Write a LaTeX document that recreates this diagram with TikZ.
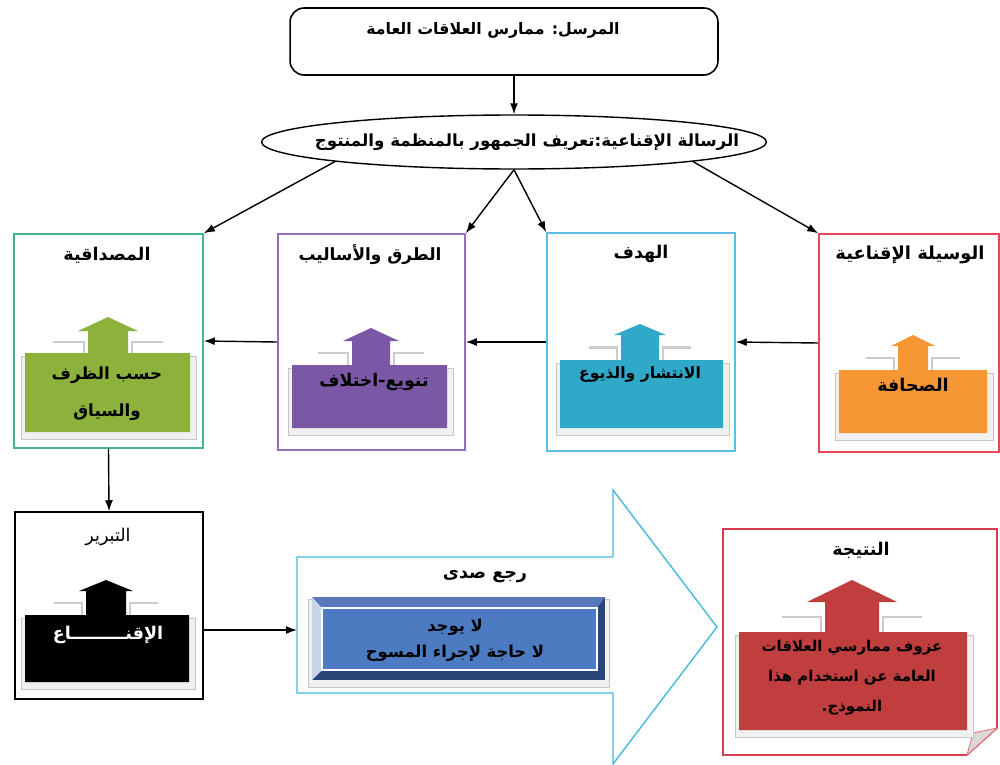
\documentclass[tikz,border=0pt]{standalone}
\usepackage{fontspec}
\newfontfamily\arabicfont[Script=Arabic]{DejaVu Sans}
\TeXXeTstate=1
\usepackage{tikz}
\usetikzlibrary{shapes.geometric, arrows.meta}

\definecolor{credline}{RGB}{70,180,140}
\definecolor{credfill}{RGB}{140,178,60}
\definecolor{methline}{RGB}{150,110,190}
\definecolor{methfill}{RGB}{122,88,165}
\definecolor{goalline}{RGB}{90,190,230}
\definecolor{goalfill}{RGB}{48,168,200}
\definecolor{medline}{RGB}{230,70,90}
\definecolor{medfill}{RGB}{246,150,52}
\definecolor{resline}{RGB}{215,60,80}
\definecolor{resfill}{RGB}{192,62,62}
\definecolor{echoline}{RGB}{70,185,220}
\definecolor{bevtop}{RGB}{88,122,186}
\definecolor{bevside}{RGB}{200,212,234}
\definecolor{bevdark}{RGB}{42,70,121}
\definecolor{bevface}{RGB}{76,123,194}

\newcommand{\artext}[1]{\beginR #1\endR}
% #1 colour, #2-#5 box corners, #6 centre x, #7 stem half width, #8 head half width, #9 tip y
\newcommand{\upcallout}[9]{%
  \pgfmathsetmacro\cbase{#9+#8-#7+4}
  \pgfmathsetmacro\cledge{(#3+\cbase)/2}
  \path[shadowbox] (#2-4,#3+3) rectangle (#4+6,#5+7);
  \draw[ledge] (#6-#8-25,\cledge) -- (#6-#7-4,\cledge) -- (#6-#7-4,#3);
  \draw[ledge] (#6+#8+25,\cledge) -- (#6+#7+4,\cledge) -- (#6+#7+4,#3);
  \fill[#1] (#2,#3) -- (#6-#7,#3) -- (#6-#7,\cbase) -- (#6-#8,\cbase) -- (#6,#9)
    -- (#6+#8,\cbase) -- (#6+#7,\cbase) -- (#6+#7,#3) -- (#4,#3) -- (#4,#5) -- (#2,#5) -- cycle;
}

\tikzset{
  fsize/.style={font=\arabicfont\bfseries\fontsize{#1}{13}\selectfont},
  every node/.style={fsize=10},
  conn/.style={-{Latex[length=2.2mm,width=1.6mm]}, line width=0.8pt},
  panel/.style={draw, fill=white, line width=0.9pt, inner sep=0pt},
  shadowbox/.style={fill=gray!12, draw=gray!45, line width=0.4pt},
  ledge/.style={draw=gray!40, line width=1.2pt},
}

\begin{document}
\begin{tikzpicture}[x=0.02cm, y=-0.02cm]
\useasboundingbox (0,0) rectangle (1000,764);

% sender and message
\node (sender) [panel, rounded corners=8pt, minimum width=8.56cm, minimum height=1.34cm] at (504,41.5) {};
\node (sendertxt) [fsize=9] at (493,30) {\artext{المرسل: ممارس العلاقات العامة}};
\node (msg) [draw, ellipse, line width=0.8pt, inner sep=0pt, minimum width=10.1cm, minimum height=1.08cm] at (514,142) {};
\node (msgtxt) [fsize=9.5] at (527,142) {\artext{الرسالة الإقناعية:تعريف الجمهور بالمنظمة والمنتوج}};
\draw[conn] (sender.south -| msg.north) -- (msg.north);

% the four panels
\node (cred) [panel, draw=credline, minimum width=3.78cm, minimum height=4.28cm] at (108.5,341) {};
\node (meth) [panel, draw=methline, minimum width=3.74cm, minimum height=4.32cm] at (371.5,342) {};
\node (goal) [panel, draw=goalline, minimum width=3.76cm, minimum height=4.36cm] at (641,342) {};
\node (medium) [panel, draw=medline, minimum width=3.6cm, minimum height=4.36cm] at (909,343) {};

\node (credtitle) at (107,255) {\artext{المصداقية}};
\node (methtitle) [fsize=9.6] at (370,255) {\artext{الطرق والأساليب}};
\node (goaltitle) at (641,254) {\artext{الهدف}};
\node (medtitle) [fsize=10.2] at (910,255) {\artext{الوسيلة الإقناعية}};

\upcallout{credfill}{25}{353}{190}{432}{108}{20}{30}{317}
\upcallout{methfill}{292}{365}{447}{428}{371}{19}{28}{328}
\upcallout{goalfill}{560}{360}{723}{428}{640}{19}{26}{324}
\upcallout{medfill}{839}{370}{987}{433}{913}{15}{22}{335}

\node (credtxt) [align=center, fsize=9.5] at (107,394) {\artext{حسب الظرف}\\[8pt]\artext{والسياق}};
\node (methtxt) [fsize=9.9] at (374,382) {\artext{تنويع-اختلاف}};
\node (goaltxt) [fsize=8.9] at (640,374) {\artext{الانتشار والذيوع}};
\node (medtxt) [fsize=10] at (913,385) {\artext{الصحافة}};

\draw[conn] (msg.south west) -- (cred.north east);
\draw[conn] (msg.south) -- (meth.north east);
\draw[conn] (msg.south) -- (goal.north west);
\draw[conn] (msg.south east) -- (medium.north west);
\draw[conn] (medium.west) -- (goal.east);
\draw[conn] (goal.west) -- (meth.east);
\draw[conn] (meth.west) -- (cred.east);

% justification
\node (just) [panel, minimum width=3.76cm, minimum height=3.74cm] at (109,605.5) {};
\node (justtitle) [font=\arabicfont\fontsize{10}{13}\selectfont] at (108,537) {\artext{التبرير}};
\upcallout{black}{25}{615}{189}{682}{106}{20}{27}{580}
\node (justtxt) [text=white] at (108,635) {\artext{الإقنـــــــــاع}};
\draw[conn] (cred.south) -- (just.north);

% feedback arrow
\draw[draw=echoline, fill=white, line width=0.8pt] (297,557) -- (613,557) -- (613,490) -- (717,627)
  -- (613,764) -- (613,693) -- (297,693) -- cycle;
\coordinate (echoin) at (297,630);
\node (echotitle) at (485,577) {\artext{رجع صدى}};
\path[shadowbox] (308,599) rectangle (609,687);
\fill[bevdark] (312,597) rectangle (605,680);
\fill[bevtop] (312,597) -- (605,597) -- (597,608) -- (322,608) -- cycle;
\fill[bevside] (312,597) -- (322,608) -- (322,670) -- (312,680) -- cycle;
\draw[bevface, fill=bevface] (322,608) rectangle (597,670);
\draw[white, line width=0.8pt] (322,608) rectangle (597,670);
\node (echotxt) [align=center, fsize=9.3] at (455,640)
  {\artext{لا يوجد}\\[2pt]\artext{لا حاجة لإجراء المسوح}};
\draw[conn] (just.east |- echoin) -- (echoin);

% result
\draw[draw=resline, fill=white, line width=0.9pt] (723,529) -- (997,529) -- (997,728) -- (967,755)
  -- (723,755) -- cycle;
\filldraw[fill=gray!30, draw=resline!70, line width=0.5pt] (997,728) -- (973,733) -- (967,755) -- cycle;
\node (restitle) at (861,550) {\artext{النتيجة}};
\upcallout{resfill}{739}{632}{967}{730}{852}{27}{45}{580}
\node (restxt) [align=center, fsize=8.5] at (852,678)
  {\artext{عزوف ممارسي العلاقات}\\[4pt]\artext{العامة عن استخدام هذا}\\[4pt]\artext{النموذج.}};
\end{tikzpicture}
\end{document}
